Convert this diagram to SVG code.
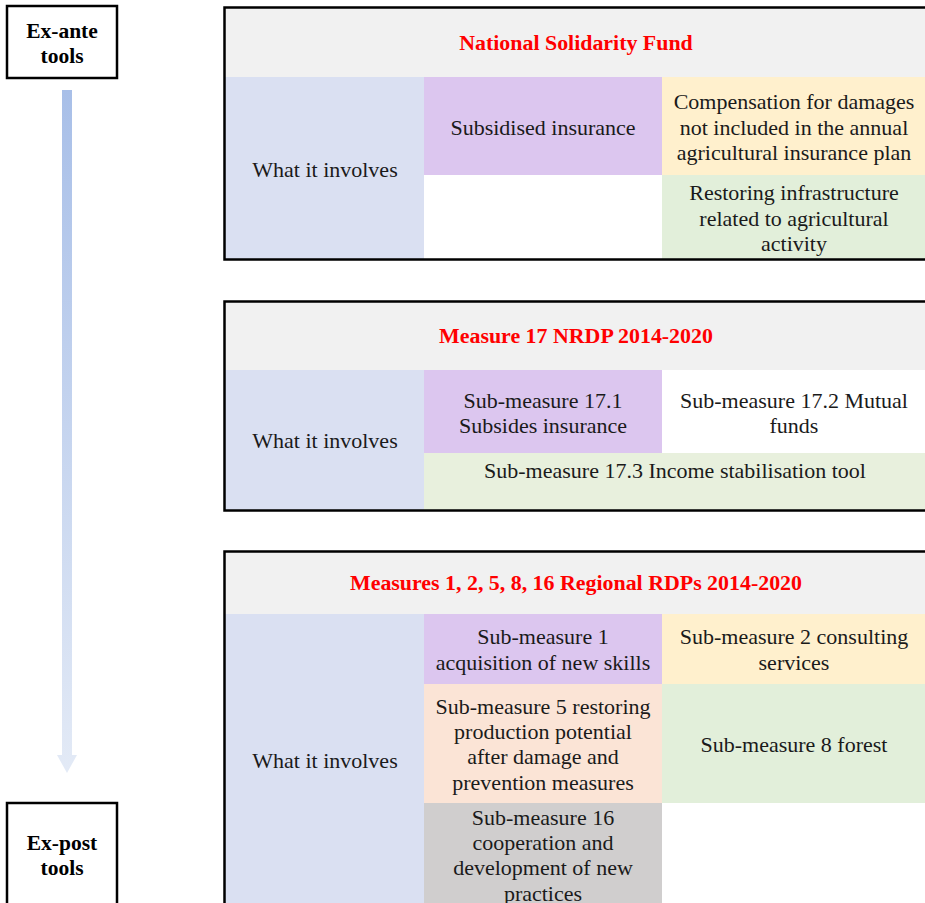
<svg xmlns="http://www.w3.org/2000/svg" width="925" height="903" viewBox="0 0 925 903">
<style>
.t{font-family:"Liberation Serif","Times New Roman",serif;font-size:22px;fill:#1a1a1a;text-anchor:middle}
.h{font-family:"Liberation Serif","Times New Roman",serif;font-size:21.9px;font-weight:bold;fill:#ff0000;text-anchor:middle}
.b{font-family:"Liberation Serif","Times New Roman",serif;font-size:21.5px;font-weight:bold;fill:#000;text-anchor:middle}
.box{fill:#fff;stroke:#000;stroke-width:2.5}
.frame{fill:none;stroke:#000;stroke-width:2.5}
.hd{fill:#f1f1f1}.bl{fill:#dae0f2}.pu{fill:#dcc6ef}.ye{fill:#fff0cd}.gr{fill:#e2efda}.gr2{fill:#e8f0dd}.pe{fill:#fbe4d6}.gy{fill:#d0cece}
</style>
<defs>
<linearGradient id="ag" x1="0" y1="0" x2="0" y2="1">
<stop offset="0" stop-color="#a8bfe8"/>
<stop offset="1" stop-color="#e3eaf6"/>
</linearGradient>
</defs>

<g id="ex-ante">
<rect class="box" x="7" y="6" width="110" height="72"/>
<text class="b" x="62" y="38">Ex-ante</text>
<text class="b" x="62" y="63">tools</text>
</g>

<g id="connectors">
<path d="M62 90 H72 V755 H77 L67 773 L57 755 H62 Z" fill="url(#ag)"/>
</g>

<g id="ex-post">
<rect class="box" x="7" y="803" width="110" height="110"/>
<text class="b" x="62" y="850">Ex-post</text>
<text class="b" x="62" y="875">tools</text>
</g>

<g id="table1">
<rect class="hd" x="225" y="8" width="700" height="69"/>
<rect class="bl" x="225" y="77" width="199" height="182"/>
<rect class="pu" x="424" y="77" width="238" height="98"/>
<rect class="ye" x="662" y="77" width="263" height="98"/>
<rect fill="#fff" x="424" y="175" width="238" height="84"/>
<rect class="gr" x="662" y="175" width="263" height="84"/>
<path class="frame" d="M930 7.5 H224.5 V259.5 H930"/>
<text class="h" x="576" y="50">National Solidarity Fund</text>
<text class="t" x="325" y="177">What it involves</text>
<text class="t" x="543" y="135">Subsidised insurance</text>
<text class="t" x="794" y="109">Compensation for damages</text>
<text class="t" x="794" y="135">not included in the annual</text>
<text class="t" x="794" y="160">agricultural insurance plan</text>
<text class="t" x="794" y="200">Restoring infrastructure</text>
<text class="t" x="794" y="226">related to agricultural</text>
<text class="t" x="794" y="251">activity</text>
</g>

<g id="table2">
<rect class="hd" x="225" y="302" width="700" height="68"/>
<rect class="bl" x="225" y="370" width="199" height="140"/>
<rect class="pu" x="424" y="370" width="238" height="83"/>
<rect fill="#fff" x="662" y="370" width="263" height="83"/>
<rect class="gr2" x="424" y="453" width="501" height="57"/>
<path class="frame" d="M930 301.5 H224.5 V510.5 H930"/>
<text class="h" x="576" y="343">Measure 17 NRDP 2014-2020</text>
<text class="t" x="325" y="448">What it involves</text>
<text class="t" x="543" y="408">Sub-measure 17.1</text>
<text class="t" x="543" y="433">Subsides insurance</text>
<text class="t" x="794" y="408">Sub-measure 17.2 Mutual</text>
<text class="t" x="794" y="433">funds</text>
<text class="t" x="675" y="478">Sub-measure 17.3 Income stabilisation tool</text>
</g>

<g id="table3">
<rect class="hd" x="225" y="552" width="700" height="62"/>
<rect class="bl" x="225" y="614" width="199" height="300"/>
<rect class="pu" x="424" y="614" width="238" height="70"/>
<rect class="ye" x="662" y="614" width="263" height="70"/>
<rect class="pe" x="424" y="684" width="238" height="119"/>
<rect class="gr" x="662" y="684" width="263" height="119"/>
<rect class="gy" x="424" y="803" width="238" height="110"/>
<path class="frame" d="M930 551.5 H224.5 V910"/>
<text class="h" x="576" y="590">Measures 1, 2, 5, 8, 16 Regional RDPs 2014-2020</text>
<text class="t" x="325" y="768">What it involves</text>
<text class="t" x="543" y="644">Sub-measure 1</text>
<text class="t" x="543" y="670">acquisition of new skills</text>
<text class="t" x="794" y="644">Sub-measure 2 consulting</text>
<text class="t" x="794" y="670">services</text>
<text class="t" x="543" y="714">Sub-measure 5 restoring</text>
<text class="t" x="543" y="739">production potential</text>
<text class="t" x="543" y="764">after damage and</text>
<text class="t" x="543" y="790">prevention measures</text>
<text class="t" x="794" y="752">Sub-measure 8 forest</text>
<text class="t" x="543" y="825">Sub-measure 16</text>
<text class="t" x="543" y="850">cooperation and</text>
<text class="t" x="543" y="875">development of new</text>
<text class="t" x="543" y="901">practices</text>
</g>
</svg>
